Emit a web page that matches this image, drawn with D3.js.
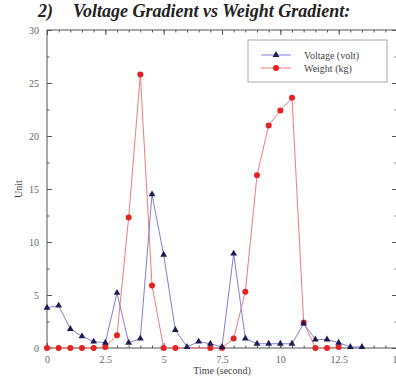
<!DOCTYPE html>
<html>
<head>
<meta charset="utf-8">
<script src="https://cdn.jsdelivr.net/npm/d3@7"></script>
<style>
  body { margin: 0; background: #fff; }
  svg { display: block; font-family: "Liberation Serif", "DejaVu Serif", serif; }
</style>
</head>
<body>
<svg id="chart" width="396" height="379"></svg>
<script>
const voltageTime = [0, 0.5, 1, 1.5, 2, 2.5, 3, 3.5, 4, 4.5, 5, 5.5, 6, 6.5, 7, 7.5, 8, 8.5, 9, 9.5, 10, 10.5, 11, 11.5, 12, 12.5, 13, 13.5]
const voltageValues = [3.8, 4.0, 1.8, 1.1, 0.6, 0.5, 5.2, 0.5, 0.9, 14.5, 8.8, 1.7, 0.1, 0.6, 0.4, 0.1, 8.9, 0.9, 0.4, 0.4, 0.4, 0.4, 2.3, 0.8, 0.8, 0.5, 0.1, 0.1]

const weightTime = [0, 0.5, 1, 1.5, 2, 2.5, 3, 3.5, 4, 4.5, 5, 5.5, 7, 7.5, 8, 8.5, 9, 9.5, 10, 10.5, 11, 11.5, 12, 12.5]
const weightValues = [0, 0, 0, 0, 0, 0.1, 1.2, 12.3, 25.8, 5.9, 0, 0, 0, 0, 0.9, 5.3, 16.3, 21.0, 22.4, 23.6, 2.4, 0, 0, 0.1]

const xTicks = [0, 2.5, 5, 7.5, 10, 12.5, 15]
const xTickLabels = ['0', '2.5', '5', '7.5', '10', '12.5', '15']
const yTicks = [0, 5, 10, 15, 20, 25, 30]

const svg = d3.select('#chart')
const margin = { left: 47, right: 396 - 397, top: 30, bottom: 379 - 348 }
const width = 396 - margin.left - margin.right
const height = 379 - margin.top - margin.bottom

const x = d3.scaleLinear().domain([0, 15]).range([margin.left, margin.left + width])
const y = d3.scaleLinear().domain([0, 30]).range([margin.top + height, margin.top])

const axisColour = '#555'
const tickText = '#666'

// title
svg.append('text')
  .attr('x', 38).attr('y', 17)
  .attr('font-size', 18).attr('font-weight', 'bold').attr('font-style', 'italic')
  .attr('fill', '#222')
  .text('2)')
svg.append('text')
  .attr('x', 73).attr('y', 17)
  .attr('font-size', 18).attr('font-weight', 'bold').attr('font-style', 'italic')
  .attr('fill', '#222')
  .text('Voltage Gradient vs Weight Gradient:')

// frame
svg.append('rect')
  .attr('x', x(0)).attr('y', y(30))
  .attr('width', x(15) - x(0)).attr('height', y(0) - y(30))
  .attr('fill', 'none').attr('stroke', axisColour).attr('stroke-width', 1)

const minorX = d3.range(0, 15.01, 0.5)
const minorY = d3.range(0, 30.01, 2.5)

function styleAxis(g) {
  g.select('.domain').remove()
  g.selectAll('line').attr('stroke', axisColour)
  g.selectAll('text').attr('fill', tickText).attr('font-size', 10).attr('font-family', 'Liberation Serif, serif')
}

// bottom axis, ticks inward
svg.append('g')
  .attr('transform', `translate(0,${y(0)})`)
  .call(d3.axisBottom(x).tickValues(xTicks).tickFormat((d, i) => xTickLabels[i]).tickSizeInner(-5).tickSizeOuter(0).tickPadding(8))
  .call(styleAxis)
svg.append('g')
  .attr('transform', `translate(0,${y(0)})`)
  .call(d3.axisBottom(x).tickValues(minorX).tickFormat('').tickSizeInner(-2.5).tickSizeOuter(0))
  .call(styleAxis)
// top axis
svg.append('g')
  .attr('transform', `translate(0,${y(30)})`)
  .call(d3.axisTop(x).tickValues(xTicks).tickFormat('').tickSizeInner(-5).tickSizeOuter(0))
  .call(styleAxis)
svg.append('g')
  .attr('transform', `translate(0,${y(30)})`)
  .call(d3.axisTop(x).tickValues(minorX).tickFormat('').tickSizeInner(-2.5).tickSizeOuter(0))
  .call(styleAxis)
// left axis
svg.append('g')
  .attr('transform', `translate(${x(0)},0)`)
  .call(d3.axisLeft(y).tickValues(yTicks).tickSizeInner(-5).tickSizeOuter(0).tickPadding(8))
  .call(styleAxis)
svg.append('g')
  .attr('transform', `translate(${x(0)},0)`)
  .call(d3.axisLeft(y).tickValues(minorY).tickFormat('').tickSizeInner(-2.5).tickSizeOuter(0))
  .call(styleAxis)
// right axis
svg.append('g')
  .attr('transform', `translate(${x(15)},0)`)
  .call(d3.axisRight(y).tickValues(yTicks).tickFormat('').tickSizeInner(-5).tickSizeOuter(0))
  .call(styleAxis)
svg.append('g')
  .attr('transform', `translate(${x(15)},0)`)
  .call(d3.axisRight(y).tickValues(minorY).tickFormat('').tickSizeInner(-2.5).tickSizeOuter(0))
  .call(styleAxis)

// axis labels
svg.append('text')
  .attr('x', x(7.5)).attr('y', 374)
  .attr('text-anchor', 'middle').attr('font-size', 10).attr('fill', '#444')
  .text('Time (second)')
svg.append('text')
  .attr('transform', `translate(22,${y(15)}) rotate(-90)`)
  .attr('text-anchor', 'middle').attr('font-size', 10).attr('fill', '#444')
  .text('Unit')

const voltage = voltageTime.map((t, i) => ({ t, v: voltageValues[i] }))
const weight = weightTime.map((t, i) => ({ t, v: weightValues[i] }))

const line = d3.line().x((d) => x(d.t)).y((d) => y(d.v))

const plot = svg.append('g')

plot.append('path')
  .datum(weight)
  .attr('d', line)
  .attr('fill', 'none').attr('stroke', '#f47a7a').attr('stroke-width', 1)

plot.append('path')
  .datum(voltage)
  .attr('d', line)
  .attr('fill', 'none').attr('stroke', '#8080d0').attr('stroke-width', 1)

const triangle = d3.symbol().type(d3.symbolTriangle).size(20)

plot.selectAll('.wdot')
  .data(weight)
  .join('circle')
  .attr('class', 'wdot')
  .attr('cx', (d) => x(d.t)).attr('cy', (d) => y(d.v))
  .attr('r', 3)
  .attr('fill', '#e32222')

plot.selectAll('.vdot')
  .data(voltage)
  .join('path')
  .attr('class', 'vdot')
  .attr('d', triangle)
  .attr('transform', (d) => `translate(${x(d.t)},${y(d.v)})`)
  .attr('fill', '#1c1c55')

// legend
const legend = svg.append('g').attr('transform', 'translate(248,40)')
legend.append('rect')
  .attr('width', 139).attr('height', 42)
  .attr('fill', '#fff').attr('stroke', '#aaa').attr('stroke-width', 1)

const legendItems = [
  { label: 'Voltage (volt)', colour: '#8080d0', mark: '#1c1c55', tri: true },
  { label: 'Weight (kg)', colour: '#f47a7a', mark: '#e32222', tri: false },
]
legendItems.forEach((item, i) => {
  const ly = 15 + i * 13
  legend.append('line')
    .attr('x1', 13).attr('x2', 43).attr('y1', ly).attr('y2', ly)
    .attr('stroke', item.colour).attr('stroke-width', 1)
  if (item.tri) {
    legend.append('path').attr('d', triangle).attr('transform', `translate(28,${ly})`).attr('fill', item.mark)
  } else {
    legend.append('circle').attr('cx', 28).attr('cy', ly).attr('r', 3).attr('fill', item.mark)
  }
  legend.append('text')
    .attr('x', 56).attr('y', ly + 3.5)
    .attr('font-size', 10).attr('fill', '#444')
    .text(item.label)
})
</script>
</body>
</html>
